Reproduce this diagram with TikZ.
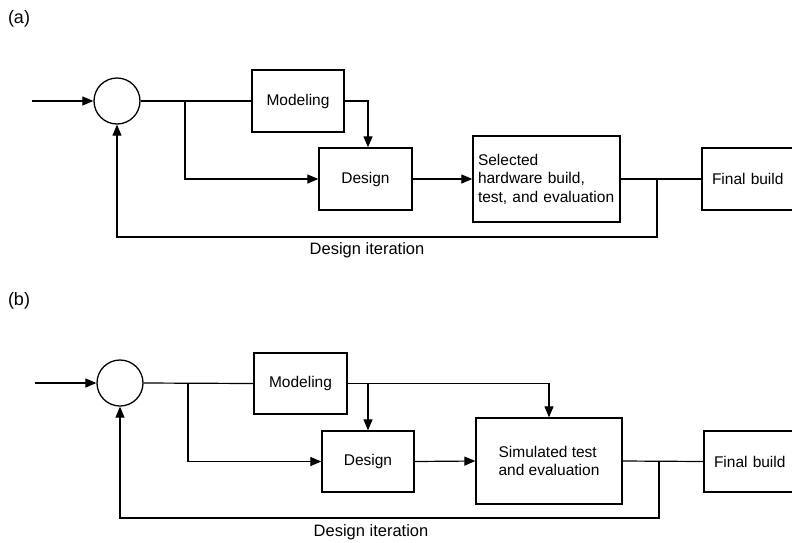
\documentclass[tikz,border=0pt]{standalone}
\usepackage{fontspec}
\setmainfont{Liberation Sans}
\usetikzlibrary{arrows.meta}
\begin{document}
\begin{tikzpicture}[x=1pt,y=-1pt,
  line width=1.2pt,
  every node/.style={font=\fontsize{15.5}{18.5}\selectfont},
  blk/.style={draw, line width=1.3pt, rectangle, inner sep=0pt},
  sumnode/.style={draw, line width=1.3pt, circle, minimum size=46pt, inner sep=0pt},
  finbox/.style={draw, line width=1.3pt, rectangle, text width=80pt, inner xsep=10pt, align=left},
  flow/.style={-{Triangle[length=11pt,width=9pt]}},
  wire/.style={-},
  partlabel/.style={font=\fontsize{18}{20}\selectfont},
  iterlabel/.style={font=\fontsize{16.5}{19}\selectfont}]
\clip (0,0) rectangle (792,542);

% ---------- (a) hardware-based design loop ----------
\node[partlabel] (labA) at (19,19) {(a)};
\node[sumnode] (sumA) at (117,101) {};
\node[blk, minimum width=92pt, minimum height=62pt] (modA) at (298,101) {Modeling};
\node[blk, minimum width=93pt, minimum height=62pt] (desA) at (365.5,179) {Design};
\node[blk, minimum width=147pt, minimum height=86pt, text width=137pt, align=left, inner xsep=5pt] (selA) at (546.5,179) {Selected\\hardware build,\\test, and evaluation};
\node[finbox, minimum height=62pt] (finA) at (752,179) {Final build};
\node[iterlabel] (iterA) at (367,250) {Design iteration};

\coordinate (inA) at (32,101);
\coordinate (brA) at (185,101);
\coordinate (fbA) at (657,179);

\draw[flow] (inA) -- (sumA.west);
\draw[wire] (sumA.east) -- (modA.west);
\draw[flow] (brA) |- (desA.west);
\draw[flow] (modA.east) -| ([xshift=2.5pt]desA.north);
\draw[flow] (desA.east) -- (selA.west);
\draw[wire] (selA.east) -- (finA.west);
\draw[flow] (fbA) -- ++(0,58) -| (sumA.south);

% ---------- (b) simulation-based design loop ----------
\node[partlabel] (labB) at (19,301) {(b)};
\node[sumnode] (sumB) at (120,383) {};
\node[blk, minimum width=93pt, minimum height=61pt] (modB) at (300.5,383.5) {Modeling};
\node[blk, minimum width=92pt, minimum height=61pt] (desB) at (368,461.5) {Design};
\node[blk, minimum width=146pt, minimum height=86pt, align=left] (simB) at (549,461) {Simulated test\\and evaluation};
\node[finbox, minimum height=61pt] (finB) at (754,461.5) {Final build};
\node[iterlabel] (iterB) at (371,532) {Design iteration};

\coordinate (inB) at (35,383);
\coordinate (brB) at (188,383);
\coordinate (fbB) at (659,461);

\draw[flow] (inB) -- (sumB.west);
\draw[wire] (sumB.east) -- (modB.west);
\draw[flow] (brB) |- (desB.west);
\draw[flow] (modB.east) -| (simB.north);
\draw[flow] (modB.east -| desB.north) -- (desB.north);
\draw[flow] (desB.east) -- (simB.west);
\draw[wire] (simB.east) -- (finB.west);
\draw[flow] (fbB) -- ++(0,57) -| (sumB.south);
\end{tikzpicture}
\end{document}
